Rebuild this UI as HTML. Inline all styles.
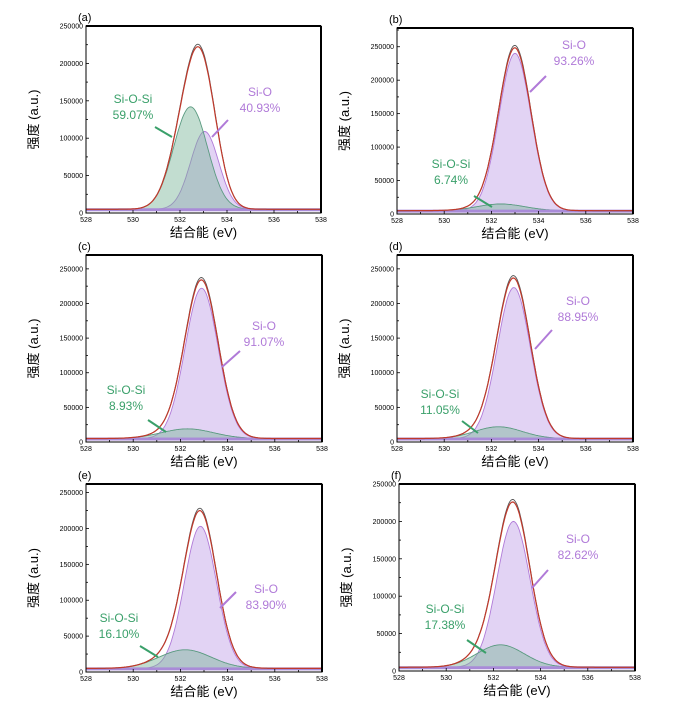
<!DOCTYPE html><html><head><meta charset="utf-8"><style>body{margin:0;background:#fff}svg{display:block}text{font-family:"Liberation Sans","Noto Sans CJK SC",sans-serif}</style></head><body>
<svg id="s" width="684" height="708" viewBox="0 0 684 708" xmlns="http://www.w3.org/2000/svg"></svg>
<script>
const P=[
{L:'(a)',x0:86,x1:321,y0:26,y1:213,ym:250000,g:[532.45,137000,0.72],p:[533.05,104000,0.6],
 so:[260,96],sos:[133,103],ar1:[228,120,212,137],ar2:[155,127,172,137],pk:'40.93%',gk:'59.07%'},
{L:'(b)',x0:397,x1:633,y0:28,y1:214,ym:278000,g:[532.4,10000,1.0],p:[533.0,235000,0.68],
 so:[574,49],sos:[451,168],ar1:[546,76,530,92],ar2:[474,196,492,207],pk:'93.26%',gk:'6.74%'},
{L:'(c)',x0:86,x1:322,y0:255,y1:442,ym:270000,g:[532.3,14000,1.1],p:[532.9,217000,0.7],
 so:[264,330],sos:[126,394],ar1:[240,351,222,367],ar2:[148,420,166,432],pk:'91.07%',gk:'8.93%'},
{L:'(d)',x0:397,x1:633,y0:255,y1:442,ym:270000,g:[532.3,17000,1.0],p:[532.95,218000,0.7],
 so:[578,305],sos:[440,398],ar1:[552,330,535,349],ar2:[462,421,478,433],pk:'88.95%',gk:'11.05%'},
{L:'(e)',x0:86,x1:322,y0:484,y1:672,ym:262000,g:[532.2,26000,1.1],p:[532.85,198000,0.68],
 so:[266,593],sos:[119,622],ar1:[236,592,220,608],ar2:[140,646,158,657],pk:'83.90%',gk:'16.10%'},
{L:'(f)',x0:399,x1:635,y0:484,y1:671,ym:250000,g:[532.3,30000,1.0],p:[532.85,195000,0.7],
 so:[578,543],sos:[445,613],ar1:[548,570,532,588],ar2:[467,640,486,653],pk:'82.62%',gk:'17.38%'}];
let h='';const G='#3aa06a',V='#b07ad8';
const gs=(c,x)=>c[1]*Math.exp(-((x-c[0])**2)/(2*c[2]*c[2]));
for(const p of P){
 const X=e=>p.x0+(e-528)/10*(p.x1-p.x0),Y=v=>p.y1-v/p.ym*(p.y1-p.y0),B=5000;
 let gp=[],pp=[],ep=[],ep2=[];
 for(let e=528;e<=538.001;e+=0.05){const g=gs(p.g,e),q=gs(p.p,e);
  gp.push(X(e).toFixed(1)+','+Y(B+g).toFixed(1));pp.push(X(e).toFixed(1)+','+Y(B+q).toFixed(1));
  ep.push(X(e).toFixed(1)+','+Y(B+g+q).toFixed(1));ep2.push(X(e).toFixed(1)+','+Y(B+(g+q)*1.015).toFixed(1));}
 const base=`${p.x1},${Y(B)} ${p.x0},${Y(B)}`;
 h+=`<polygon points="${pp.join(' ')} ${base}" fill="#e2d3f4" stroke="${V}" stroke-width="0.9"/>`;
 h+=`<polygon points="${gp.join(' ')} ${base}" fill="rgba(120,180,150,0.45)" stroke="#5a9a80" stroke-width="0.9"/>`;
 h+=`<rect x="${p.x0}" y="${Y(B)-1}" width="${p.x1-p.x0}" height="3" fill="#a98bd8"/>`;
 h+=`<polyline points="${ep2.join(' ')}" fill="none" stroke="#555" stroke-width="0.9"/>`;
 h+=`<polyline points="${ep.join(' ')}" fill="none" stroke="#c0392b" stroke-width="1.2"/>`;
 h+=`<rect x="${p.x0}" y="${p.y0}" width="${p.x1-p.x0}" height="${p.y1-p.y0}" fill="none" stroke="#000" stroke-width="1"/>`;
 h+=`<line x1="${p.x0}" y1="${p.y0}" x2="${p.x1}" y2="${p.y0}" stroke="#000" stroke-width="2"/><line x1="${p.x1}" y1="${p.y0}" x2="${p.x1}" y2="${p.y1}" stroke="#000" stroke-width="2"/>`;
 for(let v=0;v<=p.ym;v+=25000){const y=Y(v);h+=`<line x1="${p.x0}" y1="${y}" x2="${p.x0+(v%50000?2:3)}" y2="${y}" stroke="#000" stroke-width="0.8"/>`;
  if(v%50000==0)h+=`<text x="${p.x0-3}" y="${y+2.5}" font-size="7" text-anchor="end">${v}</text>`;}
 for(let e=528;e<=538;e+=1){const x=X(e);h+=`<line x1="${x}" y1="${p.y1}" x2="${x}" y2="${p.y1-(e%2?2:3)}" stroke="#000" stroke-width="0.8"/>`;
  if(e%2==0)h+=`<text x="${x}" y="${p.y1+9}" font-size="7" text-anchor="middle">${e}</text>`;}
 h+=`<text x="${p.x0-8}" y="${p.y0-5}" font-size="11">${p.L}</text>`;
 h+=`<text x="${(p.x0+p.x1)/2}" y="${p.y1+24}" font-size="13" text-anchor="middle">结合能 (eV)</text>`;
 const ym=(p.y0+p.y1)/2;h+=`<text transform="translate(${p.x0-48},${ym}) rotate(-90)" font-size="13" text-anchor="middle">强度 (a.u.)</text>`;
 h+=`<text x="${p.so[0]}" y="${p.so[1]}" font-size="12" fill="${V}" text-anchor="middle">Si-O</text><text x="${p.so[0]}" y="${p.so[1]+16}" font-size="12" fill="${V}" text-anchor="middle">${p.pk}</text>`;
 h+=`<text x="${p.sos[0]}" y="${p.sos[1]}" font-size="12" fill="${G}" text-anchor="middle">Si-O-Si</text><text x="${p.sos[0]}" y="${p.sos[1]+16}" font-size="12" fill="${G}" text-anchor="middle">${p.gk}</text>`;
 const a=p.ar1,b=p.ar2;
 h+=`<line x1="${a[0]}" y1="${a[1]}" x2="${a[2]}" y2="${a[3]}" stroke="${V}" stroke-width="2"/>`;
 h+=`<line x1="${b[0]}" y1="${b[1]}" x2="${b[2]}" y2="${b[3]}" stroke="${G}" stroke-width="2"/>`;
}
document.getElementById('s').innerHTML=h;
</script></body></html>
